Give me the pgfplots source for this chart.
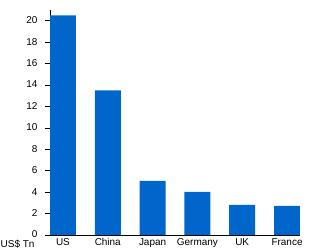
\documentclass[border=0pt]{standalone}
\usepackage{pgfplots}
\pgfplotsset{compat=1.18}
\usepackage{fontspec}
\setmainfont{Liberation Sans}
\definecolor{barblue}{RGB}{0,102,204}
\begin{document}
\fontsize{10}{12}\selectfont
\begin{tikzpicture}
\path[use as bounding box] (0,0) rectangle (320bp,250bp);
\begin{axis}[
  at={(50bp,15bp)}, anchor=south west,
  scale only axis, width=250bp, height=225bp,
  xmin=-0.289, xmax=5.289, ymin=0, ymax=21,
  axis x line*=bottom, axis y line*=left,
  axis line style={-, black, line width=0.8pt},
  ybar, bar width=26bp,
  xtick=data, xticklabels={US,China,Japan,Germany,UK,France},
  ytick={0,2,...,20},
  tick align=outside, major tick length=5bp,
  x tick style={draw=none},
  y tick style={black, line width=0.6pt},
  /pgf/number format/assume math mode=true,
  every tick label/.append style={font=\fontsize{10}{12}\selectfont},
  xticklabel style={text height=7.2bp, text depth=0pt, yshift=5bp},
  yticklabel style={xshift=-4bp, yshift=0.5bp},
]
\addplot[fill=barblue, draw=none] coordinates {(0,20.5)(1,13.5)(2,5.05)(3,4.02)(4,2.8)(5,2.72)};
\end{axis}
\node[anchor=base west, inner sep=0] at (0.5bp,2.5bp) {US\$ Tn};
\end{tikzpicture}
\end{document}
